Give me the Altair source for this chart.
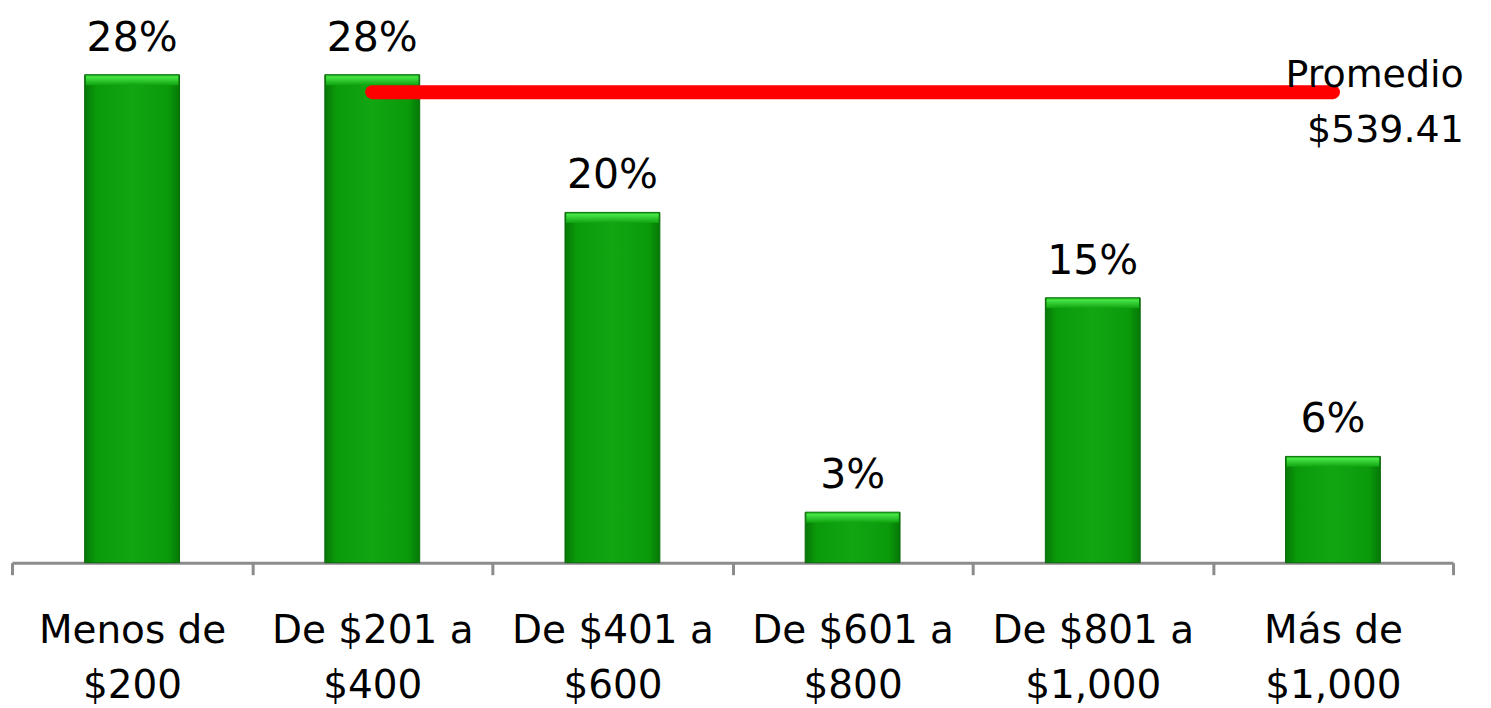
import altair as alt
import pandas as pd

categories = ["Menos de|$200", "De $201 a|$400", "De $401 a|$600",
              "De $601 a|$800", "De $801 a|$1,000", "Más de|$1,000"]
values = [28.0, 28.0, 20.1, 2.9, 15.2, 6.1]
labels = ["28%", "28%", "20%", "3%", "15%", "6%"]
avg_text = ["Promedio", "$539.41"]
avg_level = 27.0

FONT = "DejaVu Sans"

df = pd.DataFrame({"cat": categories, "value": values, "label": labels})
avg_df = pd.DataFrame({"start": [categories[1]], "end": [categories[5]],
                       "y": [avg_level], "text": [avg_text]})

xscale = alt.Scale(domain=categories, paddingInner=0, paddingOuter=0)
yscale = alt.Scale(domain=[0, 31])

xenc = alt.X("cat:N", scale=xscale, sort=categories, title=None,
             axis=alt.Axis(labelExpr="split(datum.label, '|')"))
yenc = alt.Y("value:Q", scale=yscale, axis=None)

body_grad = alt.Gradient(
    gradient="linear", x1=0, y1=0, x2=1, y2=0,
    stops=[alt.GradientStop(color="#067806", offset=0),
           alt.GradientStop(color="#0a9a0a", offset=0.12),
           alt.GradientStop(color="#12a612", offset=0.5),
           alt.GradientStop(color="#0a9a0a", offset=0.88),
           alt.GradientStop(color="#067806", offset=1)])

top_grad = alt.Gradient(
    gradient="linear", x1=0, y1=0, x2=0, y2=1,
    stops=[alt.GradientStop(color="#0c8c0c", offset=0),
           alt.GradientStop(color="#48e848", offset=0.2),
           alt.GradientStop(color="#2cc42c", offset=0.6),
           alt.GradientStop(color="#0fa30f", offset=1)])

bars = alt.Chart(df).mark_bar(
    color=body_grad, stroke="#0a6a0a", strokeWidth=1,
    width=alt.RelativeBandSize(0.395)
).encode(x=xenc, y=yenc)

tops = alt.Chart(df).transform_calculate(
    v2="datum.value - 0.6"
).mark_bar(
    color=top_grad, width=alt.RelativeBandSize(0.385)
).encode(x=xenc, y=yenc, y2="v2:Q")

text = alt.Chart(df).mark_text(
    font=FONT, fontSize=41, color="black", baseline="alphabetic", dy=-24
).encode(x=xenc, y=yenc, text="label:N")

rule = alt.Chart(avg_df).mark_rule(
    color="#ff0000", strokeWidth=14, strokeCap="round"
).encode(
    x=alt.X("start:N", scale=xscale, sort=categories, title=None),
    x2="end:N",
    y=alt.Y("y:Q", scale=yscale, axis=None),
)

avg_label = alt.Chart(avg_df).mark_text(
    font=FONT, fontSize=38, color="black", align="right",
    baseline="alphabetic", dx=131, dy=-5, lineHeight=55
).encode(
    x=alt.X("end:N", scale=xscale, sort=categories, title=None),
    y=alt.Y("y:Q", scale=yscale, axis=None),
    text="text",
)

chart = alt.layer(bars, tops, text, rule, avg_label).properties(
    width=1443, height=541,
    autosize=alt.AutoSizeParams(type="none"),
    padding={"left": 4, "top": 14, "right": 30, "bottom": 146},
).configure_view(stroke=None).configure_axis(
    domainColor="#8c8c8c", domainWidth=3,
    tickColor="#8c8c8c", tickWidth=3, tickSize=12, tickBand="extent",
    labelFont=FONT, labelFontSize=39, labelColor="black",
    labelAngle=0, labelLineHeight=55, labelPadding=37, labelLimit=0,
    labelBaseline="top", labelOverlap=False, grid=False,
)

chart.save("out.html", embed_options={"renderer": "svg", "actions": False})
